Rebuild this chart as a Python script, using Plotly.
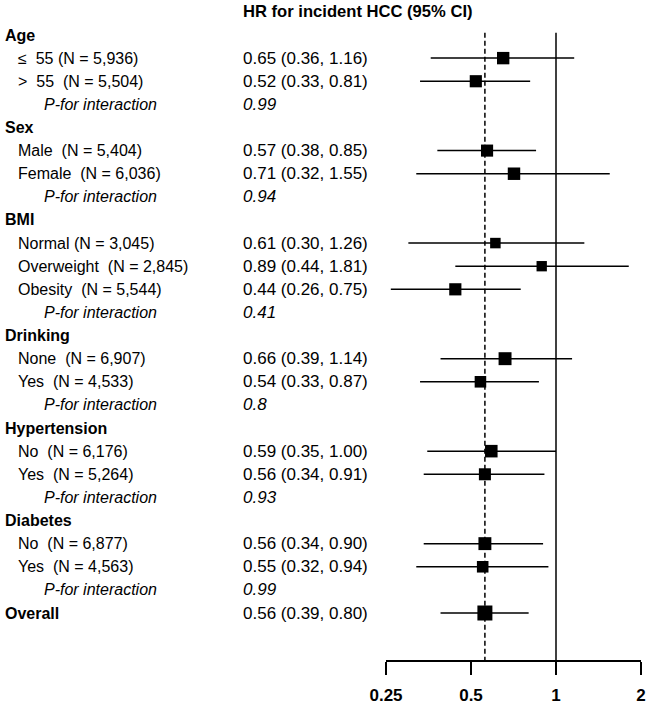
import math
import plotly.graph_objects as go

# Subgroup data
groups = ["Age", "Sex", "BMI", "Drinking", "Hypertension", "Diabetes"]
subgroups = [
    ["\u2264\u00a0 55", ">\u00a0 55\u00a0"],
    ["Male\u00a0", "Female\u00a0"],
    ["Normal", "Overweight\u00a0", "Obesity\u00a0"],
    ["None\u00a0", "Yes\u00a0"],
    ["No\u00a0", "Yes\u00a0"],
    ["No\u00a0", "Yes\u00a0"],
]
n_counts = [
    [5936, 5504],
    [5404, 6036],
    [3045, 2845, 5544],
    [6907, 4533],
    [6176, 5264],
    [6877, 4563],
]
hr = [[0.65, 0.52], [0.57, 0.71], [0.61, 0.89, 0.44], [0.66, 0.54], [0.59, 0.56], [0.56, 0.55]]
ci_low = [[0.36, 0.33], [0.38, 0.32], [0.30, 0.44, 0.26], [0.39, 0.33], [0.35, 0.34], [0.34, 0.32]]
ci_high = [[1.16, 0.81], [0.85, 1.55], [1.26, 1.81, 0.75], [1.14, 0.87], [1.00, 0.91], [0.90, 0.94]]
p_interaction = ["0.99", "0.94", "0.41", "0.8", "0.93", "0.99"]

overall_n = 11440
overall_hr, overall_low, overall_high = 0.56, 0.39, 0.80

tick_vals = [0.25, 0.5, 1, 2]
tick_text = ["0.25", "0.5", "1", "2"]

FONT = "Liberation Sans, Arial, sans-serif"
FS = 16
W, H = 650, 712
ROW0, ROWH = 35, 23.12
AXIS_PX = 660

fig = go.Figure()
ann = []


def text(xpx, row, s, bold=False, italic=False, size=FS):
    if bold:
        s = f"<b>{s}</b>"
    if italic:
        s = f"<i>{s}</i>"
    ann.append(dict(x=(xpx - 2) / W, xref="paper", y=row, yref="y", text=s, showarrow=False,
                    xanchor="left", yanchor="middle", font=dict(family=FONT, size=size, color="black")))


xs, ys, lo_err, hi_err, sizes = [], [], [], [], []
row = 0
for g, name in enumerate(groups):
    text(5, row, name, bold=True)
    row += 1
    for k, lab in enumerate(subgroups[g]):
        text(18, row, f"{lab} (N = {n_counts[g][k]:,})")
        text(243, row, f"{hr[g][k]:.2f} ({ci_low[g][k]:.2f}, {ci_high[g][k]:.2f})", size=17)
        xs.append(hr[g][k])
        ys.append(row)
        lo_err.append(hr[g][k] - ci_low[g][k])
        hi_err.append(ci_high[g][k] - hr[g][k])
        sizes.append(5.7 + 0.087 * math.sqrt(n_counts[g][k]))
        row += 1
    text(44, row, "P-for interaction", italic=True)
    text(243, row, p_interaction[g], italic=True, size=17)
    row += 1

text(5, row, "Overall", bold=True)
text(243, row, f"{overall_hr:.2f} ({overall_low:.2f}, {overall_high:.2f})", size=17)
xs.append(overall_hr)
ys.append(row)
lo_err.append(overall_hr - overall_low)
hi_err.append(overall_high - overall_hr)
sizes.append(5.7 + 0.087 * math.sqrt(overall_n))

text(243, -1, "HR for incident HCC (95% CI)", bold=True, size=16.6)

fig.add_trace(go.Scatter(
    x=xs, y=ys, mode="markers",
    marker=dict(symbol="square", size=sizes, color="#000000", opacity=1, line=dict(width=0)),
    error_x=dict(type="data", symmetric=False, array=hi_err, arrayminus=lo_err,
                 width=0, thickness=1.5, color="black"),
    showlegend=False, hoverinfo="skip", cliponaxis=False,
))

y_top = (AXIS_PX - ROW0) / ROWH
y_bottom = -ROW0 / ROWH

fig.add_shape(type="line", xref="x", yref="y", x0=overall_hr, x1=overall_hr, y0=-0.1, y1=y_top,
              line=dict(color="black", width=1.5, dash="5px,3px"), layer="below")
fig.add_shape(type="line", xref="x", yref="y", x0=1, x1=1, y0=-0.1, y1=y_top,
              line=dict(color="black", width=1.5), layer="below")

fig.update_xaxes(type="log", range=[math.log10(0.25), math.log10(2)], domain=[386 / W, 641 / W],
                 tickvals=tick_vals, ticktext=[f"<b>{t}</b>" for t in tick_text],
                 ticks="outside", ticklen=13, tickwidth=2, tickcolor="black",
                 showline=True, linewidth=2, linecolor="black", showgrid=False, zeroline=False,
                 tickfont=dict(family=FONT, size=17, color="black"), ticklabelstandoff=6,
                 automargin=False, fixedrange=True)
fig.update_yaxes(range=[y_top, y_bottom], domain=[(H - AXIS_PX) / H, 1], visible=False,
                 automargin=False, fixedrange=True)

fig.update_layout(width=W, height=H, margin=dict(l=0, r=0, t=0, b=0, autoexpand=False),
                  paper_bgcolor="white", plot_bgcolor="white", annotations=ann)

fig.write_html("out.html", config={"displayModeBar": False},
               post_script="document.body.style.margin='0';")
